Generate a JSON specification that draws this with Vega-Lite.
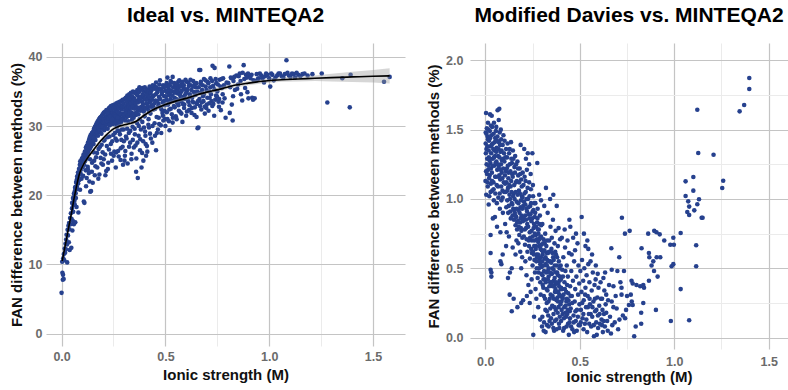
{
"$schema": "https://vega.github.io/schema/vega-lite/v6.json",
"padding": {"left": 9, "top": 5, "right": 0, "bottom": 0},
"spacing": 21,
"config": {
  "view": {"stroke": null},
  "axis": {"domain": false, "ticks": false, "labelFont": "Liberation Sans", "labelFontSize": 12.5, "labelFontWeight": "bold", "labelColor": "#6b6b6b", "titleFont": "Liberation Sans", "titleFontSize": 15, "titleFontWeight": "bold", "titleColor": "#111111", "labelOverlap": false, "labelFlush": false},
  "title": {"font": "Liberation Sans", "fontSize": 21, "fontWeight": "bold", "color": "#000000", "anchor": "middle"}
},
"datasets": {
"ideal": [
{"x":0.000,"y":5.9},{"x":0.004,"y":8.8},{"x":0.006,"y":7.8},{"x":0.010,"y":7.9},{"x":0.007,"y":8.5},{"x":0.003,"y":10.4},{"x":0.008,"y":10.9},{"x":0.011,"y":11.5},{"x":0.013,"y":10.6},{"x":0.015,"y":12.3},{"x":0.017,"y":11.7},{"x":0.019,"y":13.0},{"x":0.021,"y":12.2},{"x":0.022,"y":13.6},{"x":0.024,"y":14.3},{"x":0.027,"y":10.3},{"x":0.026,"y":12.9},{"x":0.029,"y":15.0},{"x":0.031,"y":14.2},{"x":0.033,"y":15.6},{"x":0.035,"y":13.2},{"x":0.036,"y":16.0},{"x":0.038,"y":15.1},{"x":0.039,"y":12.1},{"x":0.041,"y":16.7},{"x":0.043,"y":15.8},{"x":0.045,"y":17.4},{"x":0.047,"y":12.4},{"x":0.048,"y":16.6},{"x":0.050,"y":18.1},{"x":0.052,"y":14.9},{"x":0.053,"y":18.8},{"x":0.054,"y":16.3},{"x":0.056,"y":17.6},{"x":0.058,"y":19.4},{"x":0.059,"y":15.8},{"x":0.061,"y":20.1},{"x":0.063,"y":18.7},{"x":0.064,"y":20.6},{"x":0.066,"y":16.1},{"x":0.067,"y":21.2},{"x":0.069,"y":19.6},{"x":0.071,"y":21.8},{"x":0.072,"y":18.3},{"x":0.074,"y":22.3},{"x":0.076,"y":20.9},{"x":0.078,"y":22.8},{"x":0.080,"y":21.7},{"x":0.081,"y":17.5},{"x":0.083,"y":23.3},{"x":0.085,"y":22.2},{"x":0.087,"y":23.9},{"x":0.089,"y":20.8},{"x":0.090,"y":24.9},{"x":0.092,"y":23.1},{"x":0.094,"y":24.3},{"x":0.096,"y":22.4},{"x":0.098,"y":24.8},{"x":0.099,"y":25.3},
{"x":0.051,"y":18.9},{"x":0.055,"y":19.6},{"x":0.057,"y":18.6},{"x":0.060,"y":20.3},{"x":0.062,"y":19.2},{"x":0.065,"y":21.1},{"x":0.068,"y":20.3},{"x":0.070,"y":21.9},{"x":0.073,"y":21.3},{"x":0.075,"y":22.7},{"x":0.077,"y":21.9},{"x":0.079,"y":23.3},{"x":0.082,"y":22.6},{"x":0.084,"y":23.8},{"x":0.086,"y":23.1},{"x":0.088,"y":24.4},{"x":0.091,"y":23.6},{"x":0.093,"y":24.8},{"x":0.095,"y":24.0},{"x":0.097,"y":25.2},
{"x":0.101,"y":24.0},{"x":0.103,"y":25.1},{"x":0.105,"y":24.6},{"x":0.107,"y":19.1},{"x":0.108,"y":25.6},{"x":0.110,"y":18.9},{"x":0.111,"y":24.9},{"x":0.113,"y":26.0},{"x":0.115,"y":25.3},{"x":0.116,"y":23.6},{"x":0.118,"y":26.4},{"x":0.120,"y":25.7},{"x":0.121,"y":22.5},{"x":0.123,"y":26.8},{"x":0.125,"y":26.0},{"x":0.126,"y":24.1},{"x":0.128,"y":27.2},{"x":0.130,"y":26.5},{"x":0.131,"y":23.2},{"x":0.133,"y":27.5},{"x":0.135,"y":26.8},{"x":0.137,"y":25.2},{"x":0.138,"y":20.5},{"x":0.139,"y":27.9},{"x":0.141,"y":27.1},{"x":0.142,"y":20.6},{"x":0.143,"y":28.2},{"x":0.145,"y":27.5},{"x":0.147,"y":24.7},{"x":0.149,"y":28.4},{"x":0.150,"y":21.8},{"x":0.151,"y":27.8},{"x":0.153,"y":28.8},{"x":0.155,"y":26.2},{"x":0.157,"y":28.1},{"x":0.159,"y":29.3},{"x":0.160,"y":22.9},{"x":0.162,"y":28.6},{"x":0.164,"y":29.5},{"x":0.166,"y":25.5},{"x":0.168,"y":28.9},{"x":0.170,"y":29.8},{"x":0.172,"y":24.0},{"x":0.174,"y":29.2},{"x":0.176,"y":30.1},{"x":0.178,"y":26.7},{"x":0.180,"y":29.5},{"x":0.182,"y":23.0},{"x":0.184,"y":30.3},{"x":0.186,"y":29.1},{"x":0.188,"y":25.4},{"x":0.190,"y":30.6},{"x":0.191,"y":29.8},{"x":0.193,"y":27.3},{"x":0.195,"y":30.2},{"x":0.197,"y":30.9},{"x":0.199,"y":24.4},{"x":0.200,"y":29.6},{"x":0.202,"y":30.5},{"x":0.204,"y":27.9},{"x":0.206,"y":31.1},{"x":0.208,"y":30.0},{"x":0.210,"y":25.9},{"x":0.212,"y":30.8},{"x":0.214,"y":31.4},{"x":0.215,"y":23.5},{"x":0.217,"y":30.3},{"x":0.219,"y":31.0},{"x":0.221,"y":28.4},{"x":0.223,"y":23.8},{"x":0.224,"y":31.6},{"x":0.226,"y":30.6},{"x":0.228,"y":26.6},{"x":0.230,"y":31.3},{"x":0.232,"y":30.1},{"x":0.234,"y":31.8},{"x":0.236,"y":32.2},{"x":0.237,"y":27.4},{"x":0.239,"y":30.9},{"x":0.241,"y":31.5},{"x":0.243,"y":25.0},{"x":0.245,"y":30.4},{"x":0.247,"y":32.0},{"x":0.249,"y":28.7},{"x":0.250,"y":31.2},{"x":0.252,"y":30.7},{"x":0.254,"y":26.3},{"x":0.256,"y":31.9},{"x":0.258,"y":31.0},{"x":0.260,"y":28.2},{"x":0.262,"y":32.3},{"x":0.263,"y":26.2},{"x":0.265,"y":30.5},{"x":0.267,"y":31.6},{"x":0.269,"y":29.3},{"x":0.271,"y":32.1},{"x":0.273,"y":30.9},{"x":0.275,"y":25.6},{"x":0.277,"y":31.4},{"x":0.279,"y":32.6},{"x":0.281,"y":28.8},{"x":0.283,"y":31.1},{"x":0.285,"y":26.8},{"x":0.287,"y":30.6},{"x":0.289,"y":32.4},{"x":0.291,"y":29.5},{"x":0.293,"y":31.8},{"x":0.296,"y":24.4},{"x":0.298,"y":31.2},{"x":0.300,"y":27.8},
{"x":0.102,"y":25.5},{"x":0.106,"y":25.9},{"x":0.109,"y":24.4},{"x":0.112,"y":26.3},{"x":0.114,"y":25.0},{"x":0.117,"y":26.9},{"x":0.119,"y":25.3},{"x":0.122,"y":27.2},{"x":0.124,"y":26.3},{"x":0.127,"y":27.6},{"x":0.129,"y":26.0},{"x":0.132,"y":28.0},{"x":0.134,"y":26.6},{"x":0.136,"y":28.4},{"x":0.139,"y":26.9},{"x":0.140,"y":28.7},{"x":0.144,"y":27.2},{"x":0.146,"y":29.0},{"x":0.148,"y":27.7},{"x":0.152,"y":29.2},{"x":0.154,"y":27.4},{"x":0.156,"y":29.6},{"x":0.158,"y":28.3},{"x":0.161,"y":29.9},{"x":0.163,"y":28.0},{"x":0.165,"y":30.1},{"x":0.167,"y":28.8},{"x":0.169,"y":30.4},{"x":0.171,"y":29.0},{"x":0.173,"y":30.6},{"x":0.175,"y":28.6},{"x":0.177,"y":30.8},{"x":0.179,"y":29.8},{"x":0.181,"y":31.0},{"x":0.183,"y":29.3},{"x":0.185,"y":31.2},{"x":0.187,"y":30.0},{"x":0.189,"y":31.3},{"x":0.192,"y":28.9},{"x":0.194,"y":31.5},{"x":0.196,"y":29.9},{"x":0.198,"y":31.7},{"x":0.201,"y":30.9},{"x":0.203,"y":31.9},{"x":0.205,"y":29.4},{"x":0.207,"y":32.0},{"x":0.209,"y":30.6},{"x":0.211,"y":32.1},{"x":0.213,"y":29.7},{"x":0.216,"y":32.3},{"x":0.218,"y":30.7},{"x":0.220,"y":31.9},{"x":0.222,"y":29.6},{"x":0.225,"y":32.4},{"x":0.227,"y":31.1},{"x":0.229,"y":32.6},{"x":0.231,"y":30.2},{"x":0.233,"y":32.7},{"x":0.235,"y":31.4},{"x":0.238,"y":32.9},{"x":0.240,"y":30.6},{"x":0.242,"y":32.4},{"x":0.244,"y":31.0},{"x":0.246,"y":33.0},{"x":0.248,"y":30.3},{"x":0.251,"y":32.6},{"x":0.253,"y":31.6},{"x":0.255,"y":33.1},{"x":0.257,"y":30.4},{"x":0.259,"y":32.8},{"x":0.261,"y":31.4},{"x":0.264,"y":33.3},{"x":0.266,"y":29.9},{"x":0.268,"y":32.9},{"x":0.270,"y":31.2},{"x":0.272,"y":33.4},{"x":0.274,"y":30.3},{"x":0.276,"y":32.7},{"x":0.278,"y":31.9},{"x":0.280,"y":33.5},{"x":0.282,"y":30.5},{"x":0.284,"y":33.0},{"x":0.286,"y":31.7},{"x":0.288,"y":33.6},{"x":0.290,"y":30.9},{"x":0.292,"y":32.8},{"x":0.294,"y":33.8},{"x":0.297,"y":31.5},{"x":0.299,"y":33.3},
{"x":0.104,"y":22.8},{"x":0.118,"y":21.3},{"x":0.127,"y":23.7},{"x":0.134,"y":22.0},{"x":0.146,"y":23.4},{"x":0.157,"y":25.0},{"x":0.163,"y":24.2},{"x":0.171,"y":26.1},{"x":0.177,"y":22.4},{"x":0.185,"y":27.0},{"x":0.192,"y":24.6},{"x":0.198,"y":26.2},{"x":0.203,"y":25.2},{"x":0.207,"y":28.0},{"x":0.211,"y":22.9},{"x":0.218,"y":27.1},{"x":0.225,"y":24.7},{"x":0.231,"y":28.5},{"x":0.238,"y":26.0},{"x":0.244,"y":27.8},{"x":0.251,"y":25.7},{"x":0.257,"y":29.0},{"x":0.261,"y":24.0},{"x":0.266,"y":27.9},{"x":0.272,"y":26.4},{"x":0.278,"y":29.3},{"x":0.284,"y":25.1},{"x":0.288,"y":28.0},{"x":0.294,"y":27.0},{"x":0.299,"y":29.5},{"x":0.307,"y":26.4},{"x":0.313,"y":28.2},{"x":0.318,"y":24.6},{"x":0.324,"y":29.0},{"x":0.330,"y":27.6},{"x":0.336,"y":25.2},{"x":0.342,"y":29.9},{"x":0.348,"y":26.9},{"x":0.353,"y":28.8},{"x":0.359,"y":23.4},{"x":0.365,"y":27.6},{"x":0.372,"y":30.0},{"x":0.379,"y":28.1},{"x":0.388,"y":26.1},{"x":0.397,"y":29.8},{"x":0.405,"y":27.4},{"x":0.418,"y":30.2},{"x":0.426,"y":28.9},{"x":0.437,"y":27.6},{"x":0.448,"y":30.4},{"x":0.459,"y":29.0},{"x":0.468,"y":31.2},{"x":0.478,"y":30.1},{"x":0.488,"y":31.5},{"x":0.498,"y":31.0},{"x":0.507,"y":32.0},{"x":0.517,"y":30.7},{"x":0.526,"y":32.5},{"x":0.536,"y":31.2},{"x":0.545,"y":32.7},{"x":0.554,"y":31.0},{"x":0.563,"y":33.0},{"x":0.572,"y":32.0},{"x":0.582,"y":30.6},{"x":0.591,"y":33.1},{"x":0.604,"y":32.1},{"x":0.616,"y":33.0},{"x":0.628,"y":32.6},{"x":0.640,"y":31.6},{"x":0.652,"y":33.2},{"x":0.667,"y":32.9},{"x":0.683,"y":33.6},{"x":0.697,"y":32.6},{"x":0.713,"y":34.1},{"x":0.726,"y":32.9},{"x":0.744,"y":34.4},{"x":0.758,"y":32.8},{"x":0.775,"y":33.4},
{"x":0.302,"y":32.7},{"x":0.303,"y":25.0},{"x":0.305,"y":25.7},{"x":0.306,"y":30.8},{"x":0.308,"y":31.9},{"x":0.310,"y":28.5},{"x":0.312,"y":32.9},{"x":0.314,"y":31.3},{"x":0.316,"y":29.6},{"x":0.318,"y":33.4},{"x":0.319,"y":34.3},{"x":0.321,"y":30.7},{"x":0.323,"y":32.2},{"x":0.325,"y":27.0},{"x":0.327,"y":33.1},{"x":0.329,"y":31.5},{"x":0.331,"y":29.3},{"x":0.333,"y":33.7},{"x":0.335,"y":32.0},{"x":0.337,"y":26.0},{"x":0.339,"y":30.9},{"x":0.341,"y":33.3},{"x":0.343,"y":28.0},{"x":0.345,"y":32.6},{"x":0.347,"y":31.2},{"x":0.349,"y":34.0},{"x":0.351,"y":34.8},{"x":0.352,"y":29.6},{"x":0.354,"y":32.9},{"x":0.356,"y":27.2},{"x":0.358,"y":31.6},{"x":0.360,"y":25.3},{"x":0.362,"y":33.6},{"x":0.364,"y":30.4},{"x":0.366,"y":34.4},{"x":0.367,"y":22.5},{"x":0.369,"y":32.3},{"x":0.371,"y":28.6},{"x":0.373,"y":33.9},{"x":0.375,"y":35.6},{"x":0.376,"y":31.0},{"x":0.378,"y":26.5},{"x":0.380,"y":34.2},{"x":0.382,"y":29.5},{"x":0.384,"y":32.8},{"x":0.385,"y":24.0},{"x":0.387,"y":33.5},{"x":0.389,"y":30.6},{"x":0.391,"y":34.6},{"x":0.393,"y":27.8},{"x":0.394,"y":25.0},{"x":0.396,"y":32.1},{"x":0.398,"y":35.0},{"x":0.400,"y":31.4},{"x":0.402,"y":29.2},{"x":0.404,"y":28.6},{"x":0.406,"y":33.8},{"x":0.407,"y":25.7},{"x":0.409,"y":34.9},{"x":0.411,"y":27.1},{"x":0.413,"y":26.3},{"x":0.415,"y":32.6},{"x":0.417,"y":35.3},{"x":0.419,"y":31.0},{"x":0.421,"y":29.8},{"x":0.423,"y":33.4},{"x":0.425,"y":34.7},{"x":0.428,"y":31.8},{"x":0.430,"y":28.2},{"x":0.432,"y":35.5},{"x":0.435,"y":33.0},{"x":0.438,"y":30.0},{"x":0.440,"y":34.3},{"x":0.443,"y":32.4},{"x":0.446,"y":35.8},{"x":0.450,"y":28.6},{"x":0.452,"y":33.7},{"x":0.455,"y":36.3},{"x":0.455,"y":26.5},{"x":0.458,"y":31.3},{"x":0.461,"y":34.9},{"x":0.464,"y":29.5},{"x":0.467,"y":33.2},{"x":0.470,"y":30.3},{"x":0.472,"y":35.4},{"x":0.474,"y":36.6},{"x":0.477,"y":32.7},{"x":0.480,"y":29.0},{"x":0.483,"y":34.6},{"x":0.486,"y":31.9},{"x":0.489,"y":35.9},{"x":0.490,"y":30.8},{"x":0.493,"y":33.6},{"x":0.496,"y":32.2},{"x":0.499,"y":35.1},{"x":0.500,"y":30.0},
{"x":0.301,"y":31.6},{"x":0.304,"y":33.9},{"x":0.307,"y":32.3},{"x":0.309,"y":34.1},{"x":0.311,"y":31.8},{"x":0.313,"y":33.6},{"x":0.315,"y":32.6},{"x":0.317,"y":34.4},{"x":0.320,"y":31.5},{"x":0.322,"y":33.9},{"x":0.324,"y":32.8},{"x":0.326,"y":34.6},{"x":0.328,"y":31.9},{"x":0.330,"y":34.0},{"x":0.332,"y":32.6},{"x":0.334,"y":34.8},{"x":0.336,"y":33.2},{"x":0.338,"y":31.5},{"x":0.340,"y":34.3},{"x":0.342,"y":32.8},{"x":0.344,"y":35.0},{"x":0.346,"y":33.6},{"x":0.348,"y":31.8},{"x":0.350,"y":33.9},{"x":0.353,"y":32.5},{"x":0.355,"y":34.9},{"x":0.357,"y":33.3},{"x":0.359,"y":31.9},{"x":0.361,"y":34.6},{"x":0.363,"y":32.7},{"x":0.365,"y":35.2},{"x":0.368,"y":33.4},{"x":0.370,"y":31.7},{"x":0.372,"y":34.9},{"x":0.374,"y":32.6},{"x":0.377,"y":35.1},{"x":0.379,"y":33.7},{"x":0.381,"y":32.2},{"x":0.383,"y":35.3},{"x":0.386,"y":34.1},{"x":0.388,"y":32.4},{"x":0.390,"y":35.5},{"x":0.392,"y":33.2},{"x":0.395,"y":34.4},{"x":0.397,"y":32.7},{"x":0.399,"y":33.9},{"x":0.401,"y":35.6},{"x":0.403,"y":34.0},{"x":0.405,"y":32.5},{"x":0.408,"y":35.2},{"x":0.410,"y":33.3},{"x":0.412,"y":34.5},{"x":0.414,"y":32.9},{"x":0.416,"y":33.9},{"x":0.418,"y":35.0},{"x":0.420,"y":32.2},{"x":0.422,"y":34.2},{"x":0.424,"y":35.7},{"x":0.427,"y":33.5},{"x":0.429,"y":34.8},{"x":0.431,"y":32.8},{"x":0.434,"y":35.2},{"x":0.436,"y":33.8},{"x":0.439,"y":35.9},{"x":0.441,"y":32.9},{"x":0.444,"y":34.4},{"x":0.447,"y":33.3},{"x":0.449,"y":35.4},{"x":0.451,"y":32.5},{"x":0.454,"y":34.6},{"x":0.457,"y":35.6},{"x":0.460,"y":33.6},{"x":0.463,"y":35.1},{"x":0.466,"y":32.9},{"x":0.469,"y":34.2},{"x":0.471,"y":36.0},{"x":0.475,"y":33.9},{"x":0.478,"y":35.3},{"x":0.481,"y":32.4},{"x":0.484,"y":34.9},{"x":0.487,"y":33.4},{"x":0.491,"y":35.6},{"x":0.494,"y":34.3},{"x":0.497,"y":33.0},
{"x":0.503,"y":34.3},{"x":0.506,"y":36.2},{"x":0.510,"y":37.0},{"x":0.510,"y":31.0},{"x":0.513,"y":33.1},{"x":0.516,"y":35.4},{"x":0.519,"y":32.4},{"x":0.520,"y":29.4},{"x":0.522,"y":34.8},{"x":0.525,"y":36.5},{"x":0.528,"y":33.6},{"x":0.531,"y":31.7},{"x":0.535,"y":37.1},{"x":0.535,"y":30.5},{"x":0.538,"y":35.0},{"x":0.541,"y":32.9},{"x":0.544,"y":34.1},{"x":0.547,"y":36.0},{"x":0.550,"y":31.4},{"x":0.553,"y":35.3},{"x":0.556,"y":33.4},{"x":0.559,"y":34.7},{"x":0.562,"y":36.4},{"x":0.565,"y":32.2},{"x":0.568,"y":35.8},{"x":0.571,"y":33.9},{"x":0.574,"y":34.9},{"x":0.577,"y":31.8},{"x":0.580,"y":36.1},{"x":0.584,"y":33.2},{"x":0.587,"y":35.5},{"x":0.590,"y":32.6},{"x":0.593,"y":34.4},{"x":0.597,"y":36.7},{"x":0.600,"y":31.5},{"x":0.603,"y":35.0},{"x":0.607,"y":33.8},{"x":0.611,"y":36.3},{"x":0.614,"y":32.3},{"x":0.618,"y":34.6},{"x":0.622,"y":35.9},{"x":0.626,"y":31.9},{"x":0.630,"y":33.5},{"x":0.634,"y":36.5},{"x":0.638,"y":34.9},{"x":0.642,"y":32.7},{"x":0.646,"y":35.6},{"x":0.650,"y":31.3},{"x":0.655,"y":29.7},{"x":0.659,"y":29.8},{"x":0.663,"y":38.1},{"x":0.668,"y":38.1},{"x":0.664,"y":33.9},{"x":0.669,"y":36.1},{"x":0.673,"y":32.4},{"x":0.677,"y":35.2},{"x":0.681,"y":34.3},{"x":0.686,"y":36.8},{"x":0.690,"y":31.8},{"x":0.694,"y":35.7},{"x":0.699,"y":33.1},{"x":0.703,"y":36.4},{"x":0.708,"y":32.2},{"x":0.712,"y":35.0},{"x":0.717,"y":36.9},{"x":0.722,"y":33.6},{"x":0.727,"y":38.7},{"x":0.737,"y":38.4},{"x":0.730,"y":35.8},{"x":0.735,"y":31.5},{"x":0.740,"y":33.8},{"x":0.745,"y":36.2},{"x":0.750,"y":35.0},{"x":0.756,"y":33.5},{"x":0.761,"y":36.7},{"x":0.767,"y":32.3},{"x":0.772,"y":35.5},{"x":0.778,"y":36.9},{"x":0.785,"y":34.0},{"x":0.790,"y":31.2},{"x":0.795,"y":36.3},
{"x":0.502,"y":35.7},{"x":0.505,"y":33.8},{"x":0.508,"y":34.9},{"x":0.512,"y":36.0},{"x":0.515,"y":33.5},{"x":0.518,"y":34.5},{"x":0.521,"y":35.9},{"x":0.524,"y":33.9},{"x":0.527,"y":35.1},{"x":0.530,"y":36.3},{"x":0.533,"y":34.4},{"x":0.537,"y":35.6},{"x":0.540,"y":33.7},{"x":0.543,"y":36.2},{"x":0.546,"y":34.8},{"x":0.549,"y":35.7},{"x":0.552,"y":33.9},{"x":0.555,"y":36.0},{"x":0.558,"y":35.0},{"x":0.561,"y":33.3},{"x":0.564,"y":35.5},{"x":0.567,"y":36.6},{"x":0.570,"y":34.5},{"x":0.573,"y":35.8},{"x":0.576,"y":33.6},{"x":0.579,"y":35.1},{"x":0.583,"y":36.4},{"x":0.586,"y":34.2},{"x":0.589,"y":35.9},{"x":0.592,"y":33.9},{"x":0.595,"y":35.3},{"x":0.599,"y":34.7},{"x":0.602,"y":36.4},{"x":0.606,"y":35.3},{"x":0.610,"y":33.5},{"x":0.613,"y":35.8},{"x":0.617,"y":34.2},{"x":0.621,"y":36.7},{"x":0.625,"y":35.2},{"x":0.629,"y":34.1},{"x":0.633,"y":35.7},{"x":0.637,"y":33.4},{"x":0.641,"y":36.0},{"x":0.645,"y":34.5},{"x":0.649,"y":36.2},{"x":0.653,"y":35.0},{"x":0.657,"y":33.6},{"x":0.661,"y":35.6},{"x":0.666,"y":34.8},{"x":0.671,"y":36.4},{"x":0.675,"y":33.4},{"x":0.680,"y":35.9},{"x":0.685,"y":34.6},{"x":0.689,"y":32.8},{"x":0.693,"y":36.6},{"x":0.698,"y":35.2},{"x":0.702,"y":34.1},{"x":0.707,"y":36.2},{"x":0.711,"y":33.3},{"x":0.716,"y":35.6},{"x":0.720,"y":34.6},{"x":0.725,"y":36.5},{"x":0.731,"y":33.2},{"x":0.736,"y":35.3},{"x":0.742,"y":36.8},{"x":0.748,"y":34.3},{"x":0.753,"y":36.0},{"x":0.759,"y":33.9},{"x":0.765,"y":35.7},{"x":0.770,"y":36.8},{"x":0.776,"y":34.6},{"x":0.782,"y":35.9},
{"x":0.808,"y":38.6},{"x":0.810,"y":31.9},{"x":0.815,"y":37.0},{"x":0.820,"y":33.1},{"x":0.824,"y":30.8},{"x":0.828,"y":36.5},{"x":0.835,"y":35.2},{"x":0.842,"y":37.3},{"x":0.850,"y":36.0},{"x":0.858,"y":37.6},{"x":0.864,"y":34.6},{"x":0.870,"y":33.7},{"x":0.877,"y":38.8},{"x":0.880,"y":36.8},{"x":0.888,"y":37.4},{"x":0.895,"y":34.9},{"x":0.900,"y":34.0},{"x":0.905,"y":37.2},{"x":0.918,"y":34.1},{"x":0.925,"y":36.6},{"x":0.930,"y":34.0},{"x":0.936,"y":36.5},{"x":0.940,"y":37.5},{"x":0.950,"y":36.9},{"x":0.962,"y":37.3},{"x":0.975,"y":36.3},{"x":0.985,"y":37.6},{"x":1.000,"y":36.9},{"x":1.005,"y":35.7},{"x":1.015,"y":37.4},{"x":1.030,"y":37.0},{"x":1.045,"y":37.6},{"x":1.060,"y":37.2},{"x":1.075,"y":37.5},{"x":1.083,"y":39.5},{"x":1.095,"y":37.3},{"x":1.110,"y":37.6},{"x":1.125,"y":37.0},{"x":1.140,"y":37.4},{"x":1.160,"y":37.5},{"x":1.208,"y":37.5},{"x":1.253,"y":37.6},{"x":1.280,"y":33.4},{"x":1.352,"y":36.9},{"x":1.388,"y":32.7},{"x":1.392,"y":37.4},{"x":1.553,"y":36.4},{"x":1.580,"y":37.1},
{"x":0.803,"y":36.2},{"x":0.812,"y":35.6},{"x":0.818,"y":36.9},{"x":0.826,"y":34.3},{"x":0.832,"y":37.1},{"x":0.846,"y":35.4},{"x":0.853,"y":37.2},{"x":0.862,"y":36.5},{"x":0.872,"y":37.7},{"x":0.884,"y":35.5},{"x":0.892,"y":37.0},{"x":0.898,"y":37.6},{"x":0.910,"y":36.9},{"x":0.915,"y":37.4},{"x":0.922,"y":33.8},{"x":0.945,"y":36.8},{"x":0.955,"y":37.6},{"x":0.968,"y":36.9},{"x":0.980,"y":37.2},{"x":0.992,"y":37.4},{"x":1.010,"y":37.6},{"x":1.022,"y":36.6},{"x":1.038,"y":37.3},{"x":1.052,"y":37.6},{"x":1.068,"y":37.0},{"x":1.088,"y":37.7},{"x":1.102,"y":37.1},{"x":1.118,"y":37.5},{"x":1.132,"y":37.7},{"x":1.150,"y":37.2},{"x":1.170,"y":37.6},{"x":1.185,"y":37.3}
],
"smooth": [
{"x":0.003,"y":10.5,"lo":10.0,"hi":11.0},{"x":0.01,"y":11.6,"lo":11.2,"hi":12.0},{"x":0.022,"y":13.4,"lo":13.1,"hi":13.7},{"x":0.035,"y":15.5,"lo":15.2,"hi":15.8},{"x":0.047,"y":17.3,"lo":17.0,"hi":17.6},{"x":0.06,"y":19.5,"lo":19.2,"hi":19.8},{"x":0.07,"y":21.0,"lo":20.7,"hi":21.3},{"x":0.085,"y":23.0,"lo":22.7,"hi":23.3},{"x":0.103,"y":24.3,"lo":24.0,"hi":24.6},{"x":0.13,"y":25.6,"lo":25.3,"hi":25.9},{"x":0.16,"y":26.8,"lo":26.5,"hi":27.1},{"x":0.19,"y":27.9,"lo":27.6,"hi":28.2},{"x":0.215,"y":28.7,"lo":28.4,"hi":29.0},{"x":0.25,"y":29.6,"lo":29.3,"hi":29.9},{"x":0.28,"y":30.0,"lo":29.7,"hi":30.3},{"x":0.32,"y":30.3,"lo":30.0,"hi":30.6},{"x":0.36,"y":30.7,"lo":30.4,"hi":31.0},{"x":0.40,"y":31.6,"lo":31.3,"hi":31.9},{"x":0.45,"y":32.5,"lo":32.2,"hi":32.8},{"x":0.50,"y":33.1,"lo":32.8,"hi":33.4},{"x":0.55,"y":33.6,"lo":33.3,"hi":33.9},{"x":0.60,"y":34.0,"lo":33.7,"hi":34.3},{"x":0.65,"y":34.5,"lo":34.2,"hi":34.8},{"x":0.70,"y":34.9,"lo":34.6,"hi":35.2},{"x":0.76,"y":35.3,"lo":35.0,"hi":35.6},{"x":0.82,"y":35.8,"lo":35.5,"hi":36.1},{"x":0.90,"y":36.2,"lo":35.9,"hi":36.5},{"x":0.98,"y":36.5,"lo":36.2,"hi":36.8},{"x":1.06,"y":36.7,"lo":36.4,"hi":37.0},{"x":1.14,"y":36.8,"lo":36.45,"hi":37.15},{"x":1.22,"y":36.9,"lo":36.5,"hi":37.3},{"x":1.30,"y":37.0,"lo":36.45,"hi":37.55},{"x":1.40,"y":37.1,"lo":36.35,"hi":37.85},{"x":1.50,"y":37.2,"lo":36.3,"hi":38.1},{"x":1.58,"y":37.25,"lo":36.15,"hi":38.35}
],
"davies": [
{"x":0.004,"y":1.62},{"x":0.025,"y":1.61},{"x":0.034,"y":1.60},{"x":0.065,"y":1.64},{"x":0.074,"y":1.65},{"x":0.071,"y":1.57},{"x":0.002,"y":1.48},{"x":0.008,"y":1.51},{"x":0.012,"y":1.45},{"x":0.016,"y":1.50},{"x":0.020,"y":1.42},{"x":0.024,"y":1.49},{"x":0.028,"y":1.38},{"x":0.032,"y":1.46},{"x":0.036,"y":1.52},{"x":0.040,"y":1.40},{"x":0.044,"y":1.47},{"x":0.048,"y":1.35},{"x":0.052,"y":1.44},{"x":0.056,"y":1.49},{"x":0.060,"y":1.37},{"x":0.064,"y":1.45},{"x":0.068,"y":1.31},{"x":0.072,"y":1.41},{"x":0.076,"y":1.48},{"x":0.080,"y":1.34},{"x":0.084,"y":1.43},{"x":0.088,"y":1.28},{"x":0.092,"y":1.39},{"x":0.096,"y":1.46},{"x":0.003,"y":1.33},{"x":0.007,"y":1.25},{"x":0.011,"y":1.38},{"x":0.015,"y":1.21},{"x":0.019,"y":1.30},{"x":0.023,"y":1.17},{"x":0.027,"y":1.26},{"x":0.031,"y":1.33},{"x":0.035,"y":1.19},{"x":0.039,"y":1.29},{"x":0.043,"y":1.12},{"x":0.047,"y":1.24},{"x":0.051,"y":1.31},{"x":0.055,"y":1.16},{"x":0.059,"y":1.27},{"x":0.063,"y":1.21},{"x":0.067,"y":1.09},{"x":0.071,"y":1.23},{"x":0.075,"y":1.30},{"x":0.079,"y":1.14},{"x":0.083,"y":1.25},{"x":0.087,"y":1.19},{"x":0.091,"y":1.06},{"x":0.095,"y":1.22},{"x":0.099,"y":1.33},{"x":0.001,"y":1.13},{"x":0.005,"y":1.03},{"x":0.009,"y":1.18},{"x":0.013,"y":1.09},{"x":0.017,"y":1.24},{"x":0.021,"y":1.02},{"x":0.029,"y":1.11},{"x":0.037,"y":1.06},{"x":0.045,"y":0.99},{"x":0.053,"y":1.04},{"x":0.061,"y":0.97},{"x":0.069,"y":1.01},{"x":0.077,"y":0.93},{"x":0.085,"y":0.99},{"x":0.093,"y":0.90},{"x":0.028,"y":0.74},{"x":0.028,"y":0.61},{"x":0.028,"y":0.49},{"x":0.032,"y":0.47},{"x":0.032,"y":0.44},{"x":0.051,"y":0.87},{"x":0.018,"y":0.96},{"x":0.040,"y":0.86},{"x":0.062,"y":0.80},{"x":0.080,"y":0.76},
{"x":0.002,"y":1.40},{"x":0.006,"y":1.36},{"x":0.010,"y":1.29},{"x":0.014,"y":1.43},{"x":0.018,"y":1.35},{"x":0.022,"y":1.28},{"x":0.026,"y":1.44},{"x":0.030,"y":1.22},{"x":0.034,"y":1.39},{"x":0.038,"y":1.24},{"x":0.042,"y":1.36},{"x":0.046,"y":1.30},{"x":0.050,"y":1.41},{"x":0.054,"y":1.26},{"x":0.058,"y":1.34},{"x":0.062,"y":1.42},{"x":0.066,"y":1.25},{"x":0.070,"y":1.36},{"x":0.074,"y":1.17},{"x":0.078,"y":1.39},{"x":0.082,"y":1.21},{"x":0.086,"y":1.35},{"x":0.090,"y":1.15},{"x":0.094,"y":1.29},{"x":0.098,"y":1.12},{"x":0.004,"y":1.20},{"x":0.012,"y":1.12},{"x":0.020,"y":1.15},{"x":0.028,"y":1.05},{"x":0.036,"y":1.13},{"x":0.044,"y":1.07},{"x":0.052,"y":1.16},{"x":0.060,"y":1.10},{"x":0.068,"y":1.16},{"x":0.076,"y":1.04},{"x":0.084,"y":1.09},{"x":0.092,"y":1.01},{"x":0.100,"y":1.05},{"x":0.006,"y":1.47},{"x":0.030,"y":1.53},{"x":0.046,"y":1.55},{"x":0.058,"y":1.52},{"x":0.082,"y":1.50},{"x":0.014,"y":1.55},
{"x":0.102,"y":1.42},{"x":0.106,"y":1.30},{"x":0.110,"y":1.36},{"x":0.113,"y":0.76},{"x":0.114,"y":1.22},{"x":0.118,"y":1.40},{"x":0.122,"y":1.15},{"x":0.126,"y":1.33},{"x":0.130,"y":1.25},{"x":0.134,"y":1.09},{"x":0.136,"y":1.41},{"x":0.138,"y":1.29},{"x":0.142,"y":1.18},{"x":0.146,"y":1.35},{"x":0.150,"y":1.04},{"x":0.154,"y":1.23},{"x":0.158,"y":1.31},{"x":0.162,"y":1.12},{"x":0.166,"y":0.98},{"x":0.170,"y":1.27},{"x":0.174,"y":1.17},{"x":0.178,"y":1.06},{"x":0.182,"y":1.22},{"x":0.186,"y":0.94},{"x":0.187,"y":1.39},{"x":0.190,"y":1.14},{"x":0.194,"y":1.02},{"x":0.198,"y":1.19},{"x":0.104,"y":1.17},{"x":0.108,"y":1.05},{"x":0.112,"y":1.12},{"x":0.116,"y":0.99},{"x":0.120,"y":1.08},{"x":0.124,"y":0.95},{"x":0.128,"y":1.03},{"x":0.132,"y":0.91},{"x":0.140,"y":0.97},{"x":0.144,"y":0.88},{"x":0.148,"y":0.93},{"x":0.152,"y":0.85},{"x":0.156,"y":0.90},{"x":0.160,"y":0.81},{"x":0.164,"y":0.87},{"x":0.168,"y":0.78},{"x":0.172,"y":0.84},{"x":0.176,"y":0.92},{"x":0.180,"y":0.74},{"x":0.184,"y":0.83},{"x":0.188,"y":0.79},{"x":0.192,"y":0.88},{"x":0.196,"y":0.72},{"x":0.092,"y":0.60},{"x":0.080,"y":0.55},{"x":0.085,"y":0.53},{"x":0.140,"y":0.50},{"x":0.130,"y":0.47},{"x":0.190,"y":0.50},{"x":0.120,"y":0.43},{"x":0.129,"y":0.31},{"x":0.150,"y":0.28},{"x":0.170,"y":0.22},{"x":0.190,"y":0.25},{"x":0.140,"y":0.19},{"x":0.200,"y":0.27},{"x":0.110,"y":0.66},{"x":0.160,"y":0.60},{"x":0.175,"y":0.68},{"x":0.105,"y":0.82},{"x":0.125,"y":0.73},{"x":0.145,"y":0.65},{"x":0.165,"y":0.70},{"x":0.185,"y":0.62},{"x":0.195,"y":0.58},
{"x":0.101,"y":1.27},{"x":0.105,"y":1.11},{"x":0.109,"y":1.20},{"x":0.111,"y":0.94},{"x":0.115,"y":1.30},{"x":0.117,"y":1.06},{"x":0.119,"y":1.24},{"x":0.121,"y":0.90},{"x":0.123,"y":1.19},{"x":0.127,"y":1.10},{"x":0.129,"y":1.36},{"x":0.131,"y":1.00},{"x":0.133,"y":1.20},{"x":0.135,"y":0.86},{"x":0.137,"y":1.13},{"x":0.139,"y":1.05},{"x":0.141,"y":1.26},{"x":0.143,"y":0.96},{"x":0.145,"y":1.16},{"x":0.147,"y":1.02},{"x":0.149,"y":1.29},{"x":0.151,"y":0.92},{"x":0.153,"y":1.10},{"x":0.155,"y":1.00},{"x":0.157,"y":1.19},{"x":0.159,"y":0.88},{"x":0.161,"y":1.05},{"x":0.163,"y":1.25},{"x":0.165,"y":0.93},{"x":0.167,"y":1.13},{"x":0.169,"y":0.83},{"x":0.171,"y":1.03},{"x":0.173,"y":1.22},{"x":0.175,"y":0.97},{"x":0.177,"y":0.80},{"x":0.179,"y":1.12},{"x":0.181,"y":0.90},{"x":0.183,"y":1.04},{"x":0.185,"y":1.18},{"x":0.187,"y":0.86},{"x":0.189,"y":0.99},{"x":0.191,"y":0.77},{"x":0.193,"y":1.09},{"x":0.195,"y":0.93},{"x":0.197,"y":1.01},{"x":0.199,"y":0.84},
{"x":0.202,"y":1.10},{"x":0.205,"y":0.98},{"x":0.208,"y":1.16},{"x":0.211,"y":0.88},{"x":0.214,"y":1.05},{"x":0.217,"y":0.93},{"x":0.220,"y":1.21},{"x":0.222,"y":0.82},{"x":0.225,"y":1.33},{"x":0.226,"y":1.00},{"x":0.229,"y":0.89},{"x":0.232,"y":1.12},{"x":0.235,"y":0.76},{"x":0.238,"y":0.95},{"x":0.241,"y":1.07},{"x":0.244,"y":0.84},{"x":0.247,"y":0.70},{"x":0.249,"y":1.33},{"x":0.250,"y":0.91},{"x":0.253,"y":1.02},{"x":0.256,"y":0.79},{"x":0.259,"y":0.66},{"x":0.262,"y":0.87},{"x":0.265,"y":0.97},{"x":0.268,"y":0.74},{"x":0.271,"y":0.60},{"x":0.274,"y":0.83},{"x":0.275,"y":1.26},{"x":0.277,"y":0.93},{"x":0.280,"y":0.69},{"x":0.283,"y":0.78},{"x":0.286,"y":0.56},{"x":0.289,"y":0.88},{"x":0.292,"y":0.64},{"x":0.295,"y":0.73},{"x":0.298,"y":0.51},{"x":0.204,"y":0.73},{"x":0.210,"y":0.67},{"x":0.216,"y":0.79},{"x":0.223,"y":0.62},{"x":0.230,"y":0.70},{"x":0.236,"y":0.57},{"x":0.243,"y":0.64},{"x":0.250,"y":0.52},{"x":0.257,"y":0.60},{"x":0.263,"y":0.47},{"x":0.270,"y":0.55},{"x":0.277,"y":0.43},{"x":0.284,"y":0.50},{"x":0.291,"y":0.40},{"x":0.297,"y":0.46},{"x":0.218,"y":0.45},{"x":0.228,"y":0.38},{"x":0.240,"y":0.33},{"x":0.258,"y":0.15},{"x":0.254,"y":0.02},{"x":0.290,"y":0.13},{"x":0.270,"y":0.28},{"x":0.280,"y":0.22},{"x":0.220,"y":0.30},{"x":0.235,"y":0.25},{"x":0.212,"y":0.55},{"x":0.245,"y":0.42},{"x":0.266,"y":0.35},{"x":0.293,"y":0.31},{"x":0.300,"y":0.08},{"x":0.260,"y":0.97},{"x":0.285,"y":1.03},{"x":0.295,"y":0.99},{"x":0.232,"y":1.25},{"x":0.240,"y":1.18},{"x":0.215,"y":1.29},{"x":0.206,"y":1.36},
{"x":0.201,"y":0.95},{"x":0.203,"y":0.86},{"x":0.207,"y":1.04},{"x":0.209,"y":0.78},{"x":0.212,"y":0.96},{"x":0.213,"y":1.13},{"x":0.215,"y":0.85},{"x":0.218,"y":1.00},{"x":0.219,"y":0.71},{"x":0.221,"y":0.91},{"x":0.224,"y":1.08},{"x":0.227,"y":0.80},{"x":0.228,"y":0.94},{"x":0.231,"y":0.66},{"x":0.233,"y":0.86},{"x":0.234,"y":1.02},{"x":0.237,"y":0.72},{"x":0.239,"y":0.89},{"x":0.242,"y":0.97},{"x":0.245,"y":0.77},{"x":0.246,"y":0.61},{"x":0.248,"y":0.86},{"x":0.251,"y":0.73},{"x":0.252,"y":1.10},{"x":0.255,"y":0.92},{"x":0.258,"y":0.82},{"x":0.260,"y":0.56},{"x":0.261,"y":0.70},{"x":0.264,"y":0.90},{"x":0.267,"y":0.64},{"x":0.269,"y":0.80},{"x":0.272,"y":0.50},{"x":0.273,"y":0.71},{"x":0.276,"y":0.86},{"x":0.279,"y":0.60},{"x":0.281,"y":0.75},{"x":0.282,"y":0.47},{"x":0.285,"y":0.66},{"x":0.287,"y":0.82},{"x":0.288,"y":0.55},{"x":0.290,"y":0.72},{"x":0.294,"y":0.58},{"x":0.296,"y":0.81},{"x":0.299,"y":0.63},
{"x":0.252,"y":0.62},{"x":0.262,"y":0.75},{"x":0.268,"y":0.66},{"x":0.274,"y":0.58},{"x":0.279,"y":0.78},{"x":0.285,"y":0.71},{"x":0.291,"y":0.53},{"x":0.297,"y":0.67},{"x":0.303,"y":0.60},{"x":0.308,"y":0.42},{"x":0.314,"y":0.68},{"x":0.320,"y":0.53},{"x":0.325,"y":0.61},{"x":0.331,"y":0.48},{"x":0.337,"y":0.55},{"x":0.343,"y":0.40},{"x":0.349,"y":0.46},{"x":0.355,"y":0.61},{"x":0.362,"y":0.56},{"x":0.368,"y":0.38},{"x":0.374,"y":0.47},{"x":0.380,"y":0.58},{"x":0.386,"y":0.33},{"x":0.393,"y":0.41},{"x":0.399,"y":0.35},
{"x":0.302,"y":0.82},{"x":0.305,"y":0.62},{"x":0.308,"y":0.71},{"x":0.311,"y":0.48},{"x":0.314,"y":0.57},{"x":0.317,"y":0.75},{"x":0.320,"y":0.40},{"x":0.321,"y":1.08},{"x":0.323,"y":0.66},{"x":0.326,"y":0.52},{"x":0.329,"y":0.34},{"x":0.332,"y":0.61},{"x":0.335,"y":0.44},{"x":0.338,"y":0.70},{"x":0.340,"y":0.12},{"x":0.341,"y":0.28},{"x":0.343,"y":1.00},{"x":0.344,"y":0.55},{"x":0.347,"y":0.38},{"x":0.350,"y":0.64},{"x":0.353,"y":0.46},{"x":0.356,"y":0.30},{"x":0.359,"y":0.58},{"x":0.360,"y":1.03},{"x":0.360,"y":0.07},{"x":0.362,"y":0.41},{"x":0.365,"y":0.22},{"x":0.368,"y":0.52},{"x":0.371,"y":0.35},{"x":0.374,"y":0.60},{"x":0.377,"y":0.27},{"x":0.378,"y":0.95},{"x":0.380,"y":0.47},{"x":0.383,"y":0.18},{"x":0.386,"y":0.39},{"x":0.389,"y":0.55},{"x":0.390,"y":0.10},{"x":0.392,"y":0.31},{"x":0.395,"y":0.44},{"x":0.398,"y":0.24},{"x":0.304,"y":0.38},{"x":0.310,"y":0.30},{"x":0.318,"y":0.20},{"x":0.325,"y":0.25},{"x":0.333,"y":0.16},{"x":0.345,"y":0.80},{"x":0.352,"y":0.72},{"x":0.358,"y":0.85},{"x":0.366,"y":0.68},{"x":0.372,"y":0.77},{"x":0.384,"y":0.66},{"x":0.396,"y":0.71},{"x":0.330,"y":0.90},{"x":0.312,"y":0.95},{"x":0.348,"y":0.14},{"x":0.364,"y":0.05},{"x":0.376,"y":0.13},{"x":0.388,"y":0.79},{"x":0.309,"y":0.05},{"x":0.327,"y":0.09},{"x":0.355,"y":0.50},{"x":0.381,"y":0.33},{"x":0.399,"y":0.52},
{"x":0.301,"y":0.55},{"x":0.303,"y":0.45},{"x":0.306,"y":0.68},{"x":0.307,"y":0.36},{"x":0.309,"y":0.52},{"x":0.313,"y":0.63},{"x":0.315,"y":0.42},{"x":0.316,"y":0.28},{"x":0.319,"y":0.58},{"x":0.322,"y":0.47},{"x":0.324,"y":0.35},{"x":0.327,"y":0.70},{"x":0.328,"y":0.56},{"x":0.331,"y":0.42},{"x":0.334,"y":0.26},{"x":0.336,"y":0.50},{"x":0.337,"y":0.62},{"x":0.339,"y":0.37},{"x":0.342,"y":0.47},{"x":0.346,"y":0.31},{"x":0.349,"y":0.54},{"x":0.351,"y":0.40},{"x":0.354,"y":0.23},{"x":0.357,"y":0.37},{"x":0.361,"y":0.49},{"x":0.363,"y":0.28},{"x":0.367,"y":0.43},{"x":0.369,"y":0.33},{"x":0.370,"y":0.62},{"x":0.373,"y":0.20},{"x":0.375,"y":0.40},{"x":0.379,"y":0.52},{"x":0.382,"y":0.29},{"x":0.385,"y":0.45},{"x":0.387,"y":0.22},{"x":0.391,"y":0.37},{"x":0.393,"y":0.50},{"x":0.394,"y":0.15},{"x":0.397,"y":0.30},{"x":0.400,"y":0.42},{"x":0.403,"y":0.26},{"x":0.406,"y":0.35},{"x":0.409,"y":0.17},{"x":0.411,"y":0.44},{"x":0.414,"y":0.31},{"x":0.418,"y":0.22},{"x":0.421,"y":0.35},{"x":0.424,"y":0.48},{"x":0.427,"y":0.15},{"x":0.429,"y":0.26},{"x":0.433,"y":0.38},{"x":0.436,"y":0.20},{"x":0.439,"y":0.32},{"x":0.444,"y":0.24},{"x":0.448,"y":0.14},{"x":0.451,"y":0.30},
{"x":0.302,"y":0.15},{"x":0.311,"y":0.11},{"x":0.319,"y":0.04},{"x":0.326,"y":0.19},{"x":0.335,"y":0.08},{"x":0.344,"y":0.21},{"x":0.352,"y":0.10},{"x":0.361,"y":0.17},{"x":0.368,"y":0.12},{"x":0.377,"y":0.06},{"x":0.385,"y":0.26},{"x":0.392,"y":0.07},{"x":0.401,"y":0.12},{"x":0.408,"y":0.29},{"x":0.417,"y":0.07},{"x":0.423,"y":0.18},{"x":0.432,"y":0.28},{"x":0.438,"y":0.10},{"x":0.447,"y":0.19},{"x":0.454,"y":0.08},{"x":0.460,"y":0.25},{"x":0.468,"y":0.11},{"x":0.477,"y":0.19},{"x":0.484,"y":0.05},{"x":0.490,"y":0.15},{"x":0.498,"y":0.24},{"x":0.505,"y":0.11},{"x":0.513,"y":0.25},{"x":0.519,"y":0.17},{"x":0.528,"y":0.31},{"x":0.535,"y":0.13},{"x":0.543,"y":0.22},{"x":0.552,"y":0.28},{"x":0.558,"y":0.17},{"x":0.567,"y":0.22},{"x":0.574,"y":0.09},{"x":0.580,"y":0.28},{"x":0.588,"y":0.20},{"x":0.597,"y":0.07},{"x":0.605,"y":0.17},{"x":0.612,"y":0.28},{"x":0.618,"y":0.09},{"x":0.627,"y":0.12},
{"x":0.401,"y":0.36},{"x":0.404,"y":0.20},{"x":0.407,"y":0.49},{"x":0.410,"y":0.28},{"x":0.413,"y":0.58},{"x":0.416,"y":0.14},{"x":0.419,"y":0.40},{"x":0.422,"y":0.65},{"x":0.425,"y":0.23},{"x":0.428,"y":0.33},{"x":0.430,"y":0.08},{"x":0.431,"y":0.52},{"x":0.434,"y":0.17},{"x":0.437,"y":0.44},{"x":0.440,"y":0.27},{"x":0.443,"y":0.61},{"x":0.446,"y":0.11},{"x":0.449,"y":0.37},{"x":0.452,"y":0.21},{"x":0.455,"y":0.48},{"x":0.458,"y":0.30},{"x":0.461,"y":0.06},{"x":0.464,"y":0.41},{"x":0.467,"y":0.16},{"x":0.470,"y":0.04},{"x":0.470,"y":0.55},{"x":0.473,"y":0.26},{"x":0.476,"y":0.35},{"x":0.479,"y":0.12},{"x":0.482,"y":0.44},{"x":0.485,"y":0.20},{"x":0.488,"y":0.68},{"x":0.491,"y":0.31},{"x":0.494,"y":0.09},{"x":0.497,"y":0.39},{"x":0.500,"y":0.09},{"x":0.405,"y":0.72},{"x":0.420,"y":0.78},{"x":0.435,"y":0.70},{"x":0.450,"y":0.80},{"x":0.465,"y":0.72},{"x":0.480,"y":0.75},{"x":0.412,"y":0.05},{"x":0.442,"y":0.02},{"x":0.457,"y":0.60},{"x":0.475,"y":0.63},{"x":0.493,"y":0.52},{"x":0.445,"y":0.85},
{"x":0.503,"y":0.48},{"x":0.506,"y":0.20},{"x":0.509,"y":0.33},{"x":0.512,"y":0.56},{"x":0.515,"y":0.14},{"x":0.518,"y":0.41},{"x":0.520,"y":0.06},{"x":0.521,"y":0.27},{"x":0.522,"y":0.75},{"x":0.524,"y":0.50},{"x":0.527,"y":0.10},{"x":0.530,"y":0.66},{"x":0.530,"y":0.36},{"x":0.533,"y":0.22},{"x":0.536,"y":0.45},{"x":0.539,"y":0.04},{"x":0.542,"y":0.30},{"x":0.545,"y":0.53},{"x":0.548,"y":0.17},{"x":0.550,"y":0.10},{"x":0.551,"y":0.40},{"x":0.554,"y":0.24},{"x":0.557,"y":0.55},{"x":0.560,"y":0.08},{"x":0.563,"y":0.34},{"x":0.566,"y":0.15},{"x":0.569,"y":0.47},{"x":0.572,"y":0.26},{"x":0.575,"y":0.01},{"x":0.578,"y":0.38},{"x":0.581,"y":0.19},{"x":0.584,"y":0.42},{"x":0.587,"y":0.11},{"x":0.590,"y":0.02},{"x":0.593,"y":0.29},{"x":0.596,"y":0.16},{"x":0.599,"y":0.36},{"x":0.545,"y":0.64},{"x":0.565,"y":0.60},{"x":0.585,"y":0.52},{"x":0.595,"y":0.46},{"x":0.510,"y":0.87},{"x":0.540,"y":0.70},
{"x":0.603,"y":0.23},{"x":0.606,"y":0.10},{"x":0.610,"y":0.40},{"x":0.615,"y":0.13},{"x":0.618,"y":0.28},{"x":0.620,"y":0.20},{"x":0.622,"y":0.04},{"x":0.625,"y":0.43},{"x":0.628,"y":0.17},{"x":0.630,"y":0.34},{"x":0.633,"y":0.08},{"x":0.634,"y":0.47},{"x":0.637,"y":0.24},{"x":0.640,"y":0.18},{"x":0.640,"y":0.31},{"x":0.645,"y":0.12},{"x":0.648,"y":0.05},{"x":0.650,"y":0.27},{"x":0.655,"y":0.38},{"x":0.660,"y":0.15},{"x":0.665,"y":0.03},{"x":0.667,"y":0.645},{"x":0.669,"y":0.49},{"x":0.669,"y":0.26},{"x":0.672,"y":0.09},{"x":0.678,"y":0.37},{"x":0.678,"y":0.22},{"x":0.685,"y":0.11},{"x":0.690,"y":0.30},{"x":0.695,"y":0.21},{"x":0.699,"y":0.48},{"x":0.703,"y":0.06},{"x":0.709,"y":0.58},{"x":0.710,"y":0.13},{"x":0.715,"y":0.40},{"x":0.721,"y":0.36},{"x":0.721,"y":0.31},{"x":0.723,"y":0.865},{"x":0.728,"y":0.16},{"x":0.734,"y":0.48},{"x":0.739,"y":0.75},{"x":0.740,"y":0.14},{"x":0.745,"y":0.20},{"x":0.750,"y":0.30},{"x":0.760,"y":0.235},{"x":0.764,"y":0.77},{"x":0.770,"y":0.31},{"x":0.774,"y":0.41},{"x":0.775,"y":0.26},{"x":0.780,"y":0.39},{"x":0.788,"y":0.01},{"x":0.796,"y":0.08},{"x":0.800,"y":0.38},{"x":0.780,"y":0.235},
{"x":0.820,"y":0.37},{"x":0.825,"y":0.18},{"x":0.825,"y":0.10},{"x":0.827,"y":0.645},{"x":0.836,"y":0.25},{"x":0.836,"y":0.38},{"x":0.840,"y":0.36},{"x":0.862,"y":0.75},{"x":0.866,"y":0.61},{"x":0.866,"y":0.41},{"x":0.868,"y":0.58},{"x":0.880,"y":0.52},{"x":0.889,"y":0.55},{"x":0.893,"y":0.48},{"x":0.894,"y":0.77},{"x":0.903,"y":0.20},{"x":0.906,"y":0.76},{"x":0.907,"y":0.58},{"x":0.912,"y":0.44},{"x":0.923,"y":0.745},{"x":0.926,"y":0.58},{"x":0.947,"y":0.70},{"x":0.979,"y":0.67},{"x":0.982,"y":0.12},{"x":0.986,"y":0.515},{"x":0.995,"y":0.72},{"x":0.995,"y":0.53},{"x":0.998,"y":0.67},
{"x":1.034,"y":0.755},{"x":1.034,"y":0.35},{"x":1.060,"y":1.127},{"x":1.060,"y":1.022},{"x":1.069,"y":0.906},{"x":1.074,"y":0.983},{"x":1.079,"y":0.945},{"x":1.079,"y":0.885},{"x":1.079,"y":0.125},{"x":1.101,"y":1.159},{"x":1.101,"y":1.060},{"x":1.106,"y":0.918},{"x":1.116,"y":0.666},{"x":1.116,"y":0.515},{"x":1.122,"y":0.962},{"x":1.122,"y":1.644},{"x":1.127,"y":1.332},{"x":1.131,"y":0.998},{"x":1.145,"y":0.865},{"x":1.150,"y":0.865},{"x":1.208,"y":1.319},{"x":1.254,"y":1.079},{"x":1.259,"y":1.132},{"x":1.346,"y":1.632},{"x":1.370,"y":1.678},{"x":1.397,"y":1.793},{"x":1.397,"y":1.872}
]
},
"hconcat": [
{
  "title": {"text": "Ideal vs. MINTEQA2", "offset": 17},
  "width": 359,
  "height": 303,
  "layer": [
    {
      "data": {"name": "ideal"},
      "mark": {"type": "circle", "size": 21, "opacity": 1, "color": "#26418e"},
      "encoding": {
        "x": {"field": "x", "type": "quantitative", "title": "Ionic strength (M)",
              "scale": {"domain": [-0.075, 1.654], "nice": false, "zero": false},
              "axis": {"values": [0, 0.25, 0.5, 0.75, 1, 1.25, 1.5], "format": ".1f", "labelExpr": "datum.value % 0.5 === 0 ? datum.label : ''", "labelPadding": 4, "titlePadding": 5,
                       "gridColor": {"condition": {"test": "datum.value % 0.5 === 0", "value": "#c4c4c4"}, "value": "#ebebeb"},
                       "gridWidth": {"condition": {"test": "datum.value % 0.5 === 0", "value": 1.2}, "value": 1}}},
        "y": {"field": "y", "type": "quantitative", "title": "FAN difference between methods (%)",
              "scale": {"domain": [-1.78, 42.0], "nice": false, "zero": false},
              "axis": {"values": [0, 5, 10, 15, 20, 25, 30, 35, 40], "labelExpr": "datum.value % 10 === 0 ? datum.label : ''", "labelPadding": 4, "titlePadding": 4,
                       "gridColor": {"condition": {"test": "datum.value % 10 === 0", "value": "#c4c4c4"}, "value": "#ebebeb"},
                       "gridWidth": {"condition": {"test": "datum.value % 10 === 0", "value": 1.2}, "value": 1}}}
      }
    },
    {
      "data": {"name": "smooth"},
      "mark": {"type": "area", "color": "#999999", "opacity": 0.4},
      "encoding": {
        "x": {"field": "x", "type": "quantitative"},
        "y": {"field": "lo", "type": "quantitative"},
        "y2": {"field": "hi"}
      }
    },
    {
      "data": {"name": "smooth"},
      "mark": {"type": "line", "color": "#000000", "strokeWidth": 1.6, "interpolate": "monotone"},
      "encoding": {
        "x": {"field": "x", "type": "quantitative"},
        "y": {"field": "y", "type": "quantitative"}
      }
    }
  ]
},
{
  "title": {"text": "Modified Davies vs. MINTEQA2", "offset": 17},
  "width": 318,
  "height": 306,
  "data": {"name": "davies"},
  "mark": {"type": "circle", "size": 21, "opacity": 1, "color": "#26418e"},
  "encoding": {
    "x": {"field": "x", "type": "quantitative", "title": "Ionic strength (M)",
          "scale": {"domain": [-0.081, 1.602], "nice": false, "zero": false},
          "axis": {"values": [0, 0.25, 0.5, 0.75, 1, 1.25, 1.5], "format": ".1f", "labelExpr": "datum.value % 0.5 === 0 ? datum.label : ''", "labelPadding": 6, "titlePadding": 2,
                   "gridColor": {"condition": {"test": "datum.value % 0.5 === 0", "value": "#c4c4c4"}, "value": "#ebebeb"},
                   "gridWidth": {"condition": {"test": "datum.value % 0.5 === 0", "value": 1.2}, "value": 1}}},
    "y": {"field": "y", "type": "quantitative", "title": "FAN difference between methods (%)",
          "scale": {"domain": [-0.082, 2.125], "nice": false, "zero": false},
          "axis": {"values": [0, 0.25, 0.5, 0.75, 1, 1.25, 1.5, 1.75, 2], "format": ".1f", "labelExpr": "datum.value % 0.5 === 0 ? datum.label : ''", "labelPadding": 7, "titlePadding": 4,
                   "gridColor": {"condition": {"test": "datum.value % 0.5 === 0", "value": "#c4c4c4"}, "value": "#ebebeb"},
                   "gridWidth": {"condition": {"test": "datum.value % 0.5 === 0", "value": 1.2}, "value": 1}}}
  }
}
]
}
